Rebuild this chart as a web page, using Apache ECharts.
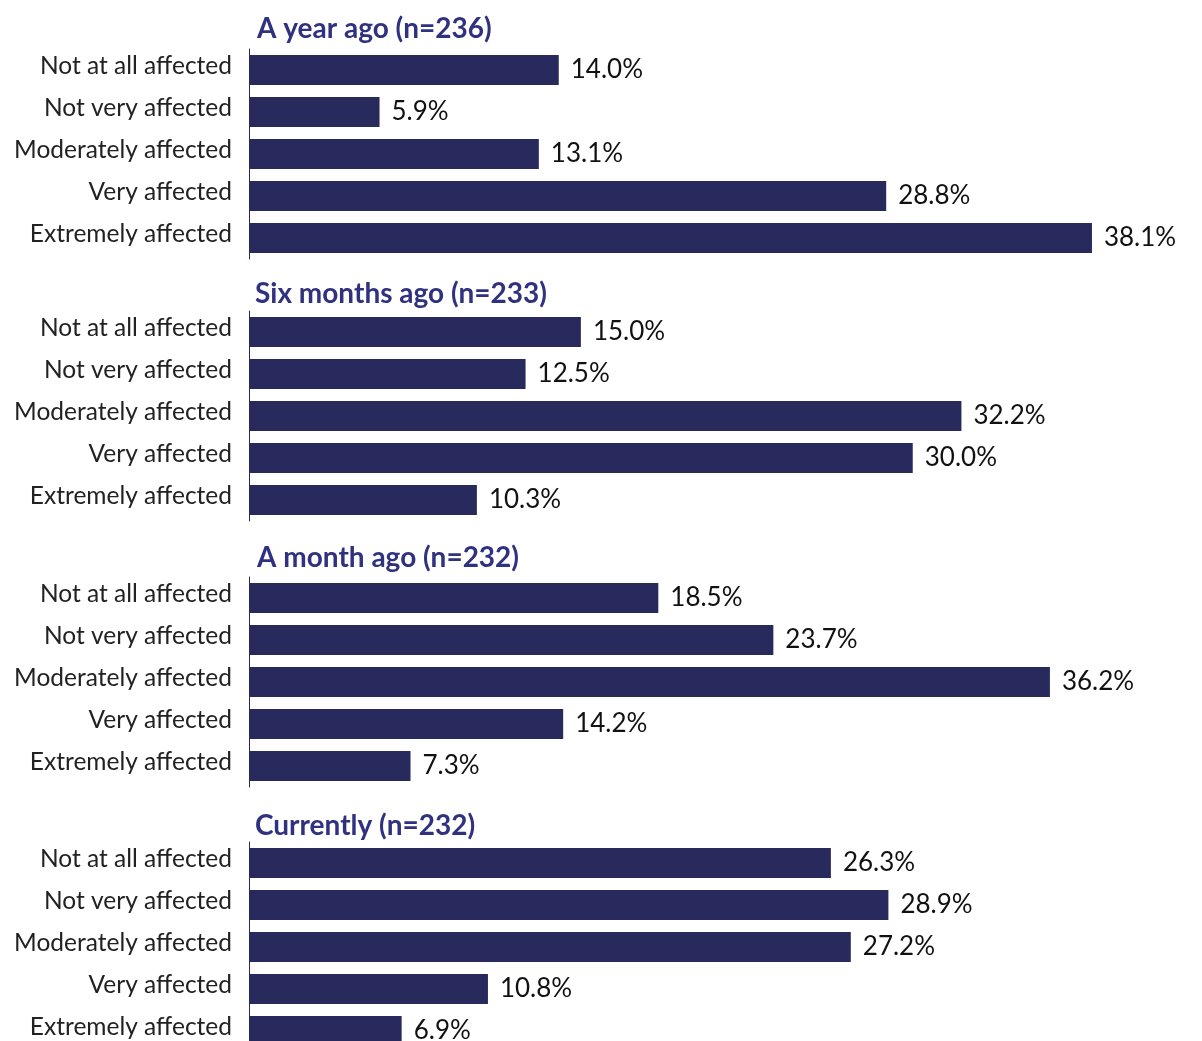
<!DOCTYPE html>
<html>
<head>
	<meta charset="utf-8">
	<title>Affected over time</title>
	<script type="text/javascript" src="https://cdn.jsdelivr.net/npm/echarts@6/dist/echarts.min.js"></script>
	<style>body{margin:0;background:#fff}</style>
</head>
<body>
	<div style="height: 1041px; width: 1202px" id="main"></div>
	<script type="text/javascript">
		var categories = ['Not at all affected', 'Not very affected', 'Moderately affected', 'Very affected', 'Extremely affected'];
		var titles = ['A year ago (n=236)', 'Six months ago (n=233)', 'A month ago (n=232)', 'Currently (n=232)'];
		var yearAgo = [14.0, 5.9, 13.1, 28.8, 38.1];
		var sixMonthsAgo = [15.0, 12.5, 32.2, 30.0, 10.3];
		var monthAgo = [18.5, 23.7, 36.2, 14.2, 7.3];
		var currently = [26.3, 28.9, 27.2, 10.8, 6.9];
		var panels = [yearAgo, sixMonthsAgo, monthAgo, currently];

		var gridTops = [49, 311, 577, 842];
		var titleTops = [10, 275, 539, 807];
		var titleLefts = [252, 250, 252, 250];
		var font = 'Lato';

		var option = {title: [], grid: [], xAxis: [], yAxis: [], series: [], animation: false};
		for (var i = 0; i < panels.length; i++) {
			option.title.push({
				text: titles[i],
				left: titleLefts[i],
				top: titleTops[i],
				textStyle: {fontFamily: font, fontSize: 28, fontWeight: 'bold', color: '#30327f'}
			});
			option.grid.push({left: 249, width: 885, top: gridTops[i], height: 210, outerBoundsMode: 'none'});
			option.xAxis.push({
				type: 'value', gridIndex: i, min: 0, max: 40, show: false
			});
			option.yAxis.push({
				type: 'category', gridIndex: i, data: categories, inverse: true,
				axisLine: {lineStyle: {color: '#282a5e', width: 1}},
				axisTick: {show: false},
				// labels sit a little above the bar centre
				axisLabel: {fontFamily: font, fontSize: 24.5, color: '#222', margin: 17,
					verticalAlign: 'bottom', lineHeight: 8}
			});
			option.series.push({
				type: 'bar', xAxisIndex: i, yAxisIndex: i, data: panels[i],
				barWidth: 30,
				itemStyle: {color: '#282a5e'},
				label: {
					show: true, position: 'right', distance: 12,
					fontFamily: font, fontSize: 26, color: '#111',
					formatter: function (p) { return p.value.toFixed(1) + '%'; }
				}
			});
		}
		var chart = echarts.init(document.getElementById('main'));
		chart.setOption(option);
	</script>
</body>
</html>
